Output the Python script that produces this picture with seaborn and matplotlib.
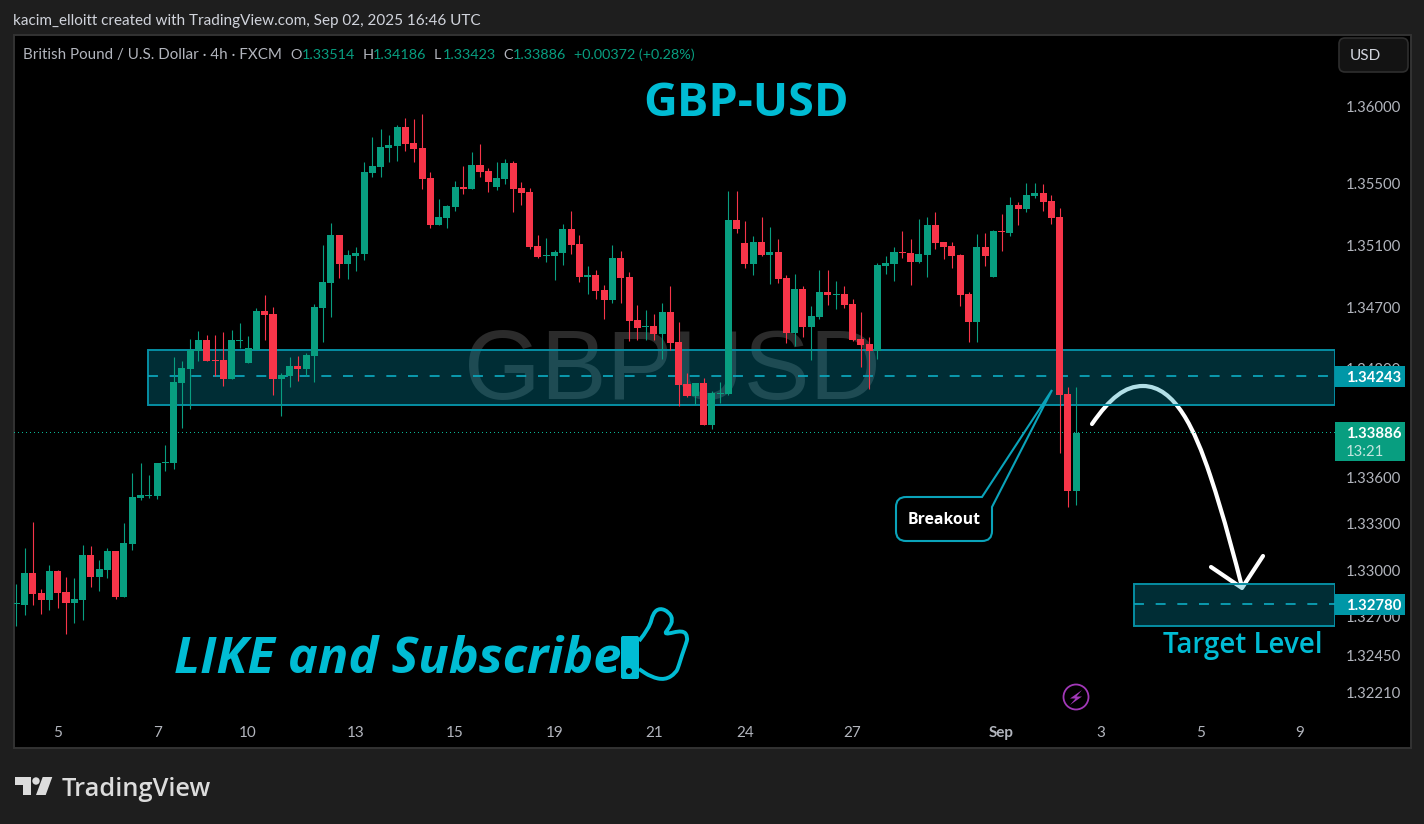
import matplotlib
matplotlib.use("Agg")
import matplotlib.pyplot as plt
import seaborn as sns
import numpy as np
import pandas as pd
from matplotlib.lines import Line2D
from matplotlib.patches import Circle, FancyBboxPatch, PathPatch, Polygon, Rectangle
from matplotlib.path import Path
from matplotlib.transforms import Affine2D

# 4h candles
opens = [1.32780, 1.32776, 1.32983, 1.32851, 1.32807, 1.32994, 1.32858, 1.32787, 1.32807, 1.33098,
         1.32956, 1.33000, 1.33123, 1.32827, 1.33170, 1.33465, 1.33481, 1.33479, 1.33695, 1.33693,
         1.34209, 1.34300, 1.34418, 1.34487, 1.34358, 1.34358, 1.34236, 1.34483, 1.34338, 1.34423,
         1.34674, 1.34656, 1.34236, 1.34253, 1.34320, 1.34300, 1.34385, 1.34694, 1.34857, 1.35166,
         1.34979, 1.35030, 1.35043, 1.35567, 1.35606, 1.35729, 1.35742, 1.35864, 1.35761, 1.35729,
         1.35535, 1.35231, 1.35276, 1.35347, 1.35476, 1.35464, 1.35619, 1.35580, 1.35476, 1.35528,
         1.35632, 1.35470, 1.35444, 1.35095, 1.35030, 1.35030, 1.35050, 1.35205, 1.35108, 1.34895,
         1.34908, 1.34811, 1.34746, 1.35018, 1.34895, 1.34617, 1.34571, 1.34578, 1.34526, 1.34668,
         1.34474, 1.34203, 1.34125, 1.34209, 1.33938, 1.34141, 1.34138, 1.35263, 1.35114, 1.34979,
         1.35121, 1.35037, 1.35056, 1.34888, 1.34533, 1.34817, 1.34571, 1.34636, 1.34798, 1.34780,
         1.34785, 1.34720, 1.34494, 1.34462, 1.34416, 1.34966, 1.34979, 1.35056, 1.35050, 1.34992,
         1.35037, 1.35231, 1.35121, 1.35095, 1.35037, 1.34785, 1.34604, 1.35089, 1.34895, 1.35192,
         1.35179, 1.35360, 1.35334, 1.35418, 1.35438, 1.35386, 1.35283, 1.34138, 1.33514]
highs = [1.32911, 1.33143, 1.33312, 1.32878, 1.33034, 1.33000, 1.32956, 1.32949, 1.33163, 1.33156,
         1.33065, 1.33143, 1.33123, 1.33305, 1.33628, 1.33693, 1.33615, 1.33693, 1.33808, 1.34378,
         1.34351, 1.34494, 1.34545, 1.34521, 1.34521, 1.34538, 1.34552, 1.34596, 1.34514, 1.34694,
         1.34779, 1.34701, 1.34274, 1.34378, 1.34385, 1.34403, 1.34721, 1.35102, 1.35244, 1.35166,
         1.35069, 1.35089, 1.35638, 1.35800, 1.35851, 1.35813, 1.35877, 1.35922, 1.35916, 1.35948,
         1.35573, 1.35399, 1.35360, 1.35515, 1.35612, 1.35703, 1.35754, 1.35599, 1.35638, 1.35657,
         1.35644, 1.35509, 1.35470, 1.35166, 1.35147, 1.35069, 1.35237, 1.35321, 1.35166, 1.34966,
         1.34940, 1.34843, 1.35102, 1.35063, 1.34927, 1.34714, 1.34681, 1.34655, 1.34727, 1.34836,
         1.34604, 1.34274, 1.34209, 1.34242, 1.34158, 1.34216, 1.35451, 1.35451, 1.35257, 1.35160,
         1.35283, 1.35218, 1.35140, 1.34908, 1.34914, 1.34836, 1.34707, 1.34940, 1.34940, 1.34869,
         1.34836, 1.34752, 1.34668, 1.34507, 1.34985, 1.35030, 1.35089, 1.35192, 1.35140, 1.35270,
         1.35283, 1.35315, 1.35121, 1.35121, 1.35043, 1.34798, 1.35173, 1.35179, 1.35198, 1.35302,
         1.35412, 1.35379, 1.35502, 1.35502, 1.35496, 1.35425, 1.35341, 1.34184, 1.34186]
lows = [1.32640, 1.32707, 1.32776, 1.32715, 1.32742, 1.32755, 1.32586, 1.32657, 1.32678, 1.32891,
        1.32865, 1.32949, 1.32813, 1.32827, 1.33129, 1.33454, 1.33465, 1.33459, 1.33641, 1.33655,
        1.33920, 1.34042, 1.34351, 1.34351, 1.34253, 1.34191, 1.34236, 1.34436, 1.34338, 1.34423,
        1.34487, 1.34131, 1.33995, 1.34185, 1.34222, 1.34253, 1.34216, 1.34474, 1.34636, 1.34888,
        1.34882, 1.34933, 1.35005, 1.35541, 1.35541, 1.35638, 1.35644, 1.35709, 1.35638, 1.35464,
        1.35211, 1.35231, 1.35211, 1.35321, 1.35431, 1.35464, 1.35541, 1.35444, 1.35457, 1.35496,
        1.35315, 1.35360, 1.35076, 1.35018, 1.34992, 1.34875, 1.34972, 1.35043, 1.34862, 1.34785,
        1.34752, 1.34623, 1.34727, 1.34727, 1.34481, 1.34487, 1.34487, 1.34487, 1.34365, 1.34423,
        1.34061, 1.34119, 1.34067, 1.33938, 1.33912, 1.34080, 1.34132, 1.35179, 1.34953, 1.34908,
        1.35030, 1.34849, 1.34856, 1.34468, 1.34449, 1.34507, 1.34358, 1.34623, 1.34714, 1.34688,
        1.34694, 1.34481, 1.34313, 1.34171, 1.34365, 1.34914, 1.34869, 1.35018, 1.34843, 1.34985,
        1.34895, 1.35076, 1.35011, 1.34953, 1.34707, 1.34474, 1.34474, 1.34966, 1.34895, 1.35063,
        1.35160, 1.35231, 1.35315, 1.35405, 1.35321, 1.35237, 1.33757, 1.33408, 1.33423]
closes = [1.32785, 1.32983, 1.32847, 1.32807, 1.32994, 1.32851, 1.32787, 1.32813, 1.33098, 1.32956,
          1.33007, 1.33123, 1.32827, 1.33176, 1.33472, 1.33486, 1.33486, 1.33693, 1.33699, 1.34216,
          1.34307, 1.34425, 1.34487, 1.34351, 1.34354, 1.34236, 1.34487, 1.34487, 1.34436, 1.34674,
          1.34650, 1.34236, 1.34260, 1.34320, 1.34300, 1.34392, 1.34701, 1.34863, 1.35166, 1.34979,
          1.35037, 1.35050, 1.35573, 1.35612, 1.35735, 1.35748, 1.35864, 1.35754, 1.35722, 1.35528,
          1.35231, 1.35283, 1.35354, 1.35476, 1.35464, 1.35619, 1.35573, 1.35509, 1.35535, 1.35632,
          1.35464, 1.35438, 1.35089, 1.35024, 1.35037, 1.35056, 1.35205, 1.35102, 1.34895, 1.34908,
          1.34804, 1.34746, 1.35018, 1.34888, 1.34610, 1.34565, 1.34578, 1.34526, 1.34668, 1.34468,
          1.34197, 1.34125, 1.34209, 1.33938, 1.34145, 1.34145, 1.35263, 1.35205, 1.34979, 1.35121,
          1.35037, 1.35056, 1.34882, 1.34533, 1.34817, 1.34571, 1.34643, 1.34798, 1.34778, 1.34785,
          1.34714, 1.34487, 1.34455, 1.34416, 1.34972, 1.34985, 1.35056, 1.35050, 1.34992, 1.35043,
          1.35231, 1.35114, 1.35089, 1.35030, 1.34778, 1.34604, 1.35089, 1.35030, 1.35192, 1.35186,
          1.35360, 1.35334, 1.35425, 1.35438, 1.35379, 1.35276, 1.34132, 1.33511, 1.33886]

price_ticks = [1.36000, 1.35500, 1.35100, 1.34700, 1.34300, 1.33600, 1.33300, 1.33000, 1.32700, 1.32450, 1.32210]
time_ticks = [5, 17, 28, 41, 53, 65, 77, 88, 101, 119, 131, 143, 155]
time_labels = ["5", "7", "10", "13", "15", "19", "21", "24", "27", "Sep", "3", "5", "9"]

resistance_zone = (1.34067, 1.34423)
resistance_line = 1.34255
target_zone = (1.32639, 1.32910)
target_line = 1.32780
close_line = 1.33893

resistance_label = "1.34243"
close_label = "1.33886"
target_label = "1.32780"

UP = "#089e80"
DOWN = "#f73549"
CYAN = "#00bcd4"
ZONE = "#0097b2"
EDGE = "#068ea3"
GREY = "#b2b5bd"

sns.set_style("dark")
plt.rcParams["font.family"] = ["Lato", "DejaVu Sans"]
plt.rcParams["axes.grid"] = False

fig = plt.figure(figsize=(14.24, 8.24), dpi=100, facecolor="#1e1e1e")
# screenshot pixels, origin top left, for everything that is not on the price scale
px = Affine2D().scale(1, -1).translate(0, 824)

fig.add_artist(Rectangle((14, 35), 1397, 713, transform=px, facecolor="black",
                         edgecolor="#333333", linewidth=1.4, zorder=-1))

ax = fig.add_axes([14 / 1424, 108 / 824, 1321 / 1424, 680 / 824])
ax.set_facecolor("none")
for s in ax.spines.values():
    s.set_visible(False)

candles = pd.DataFrame({"bar": np.arange(len(opens)), "open": opens, "high": highs,
                        "low": lows, "close": closes})
candles["base"] = candles[["open", "close"]].min(axis=1)
candles["body"] = (candles["close"] - candles["open"]).abs().clip(lower=0.00007)
rising = candles["close"] >= candles["open"]

# wicks, then bodies on top
ax.vlines(candles["bar"], candles["low"], candles["high"], colors=[UP if r else DOWN for r in rising],
          linewidth=0.8, zorder=3)
for part, colour in [(candles[rising], UP), (candles[~rising], DOWN)]:
    sns.barplot(data=part, x="bar", y="body", bottom=part["base"].values, native_scale=True, orient="x",
                width=0.85, color=colour, saturation=1, linewidth=0, errorbar=None, ax=ax, zorder=4)

ax.set_xlim(-0.278, 159.26)
ax.set_ylim(1.32057, 1.364525)
ax.set_xlabel("")
ax.set_ylabel("")
ax.yaxis.tick_right()
ax.set_yticks(price_ticks, [f"{p:.5f}" for p in price_ticks])
ax.set_xticks(time_ticks, time_labels)
ax.tick_params(axis="y", length=0, pad=8, labelsize=10.7, labelcolor=GREY)
ax.tick_params(axis="x", length=0, pad=7.5, labelsize=11, labelcolor=GREY)
ax.get_xticklabels()[time_labels.index("Sep")].set_fontweight("bold")

# symbol watermark sits under the zones
ax.text(672, 374, "GBPUSD", transform=px, ha="center", va="center", color="#2b2b2b", fontsize=71,
        family="Liberation Sans", zorder=0.5)

# projected path, also under the zone fill
arrow = Path([(1092, 424), (1110, 398), (1125, 386), (1143, 386),
              (1175, 386), (1195, 430), (1210, 475),
              (1225, 520), (1235, 560), (1242, 587)],
             [Path.MOVETO] + [Path.CURVE4] * 9)
ax.add_patch(PathPatch(arrow, transform=px, facecolor="none", edgecolor="white", linewidth=3,
                       capstyle="round", clip_on=False, zorder=1))
ax.add_line(Line2D([1211, 1242, 1263], [567, 588, 556], transform=px, color="white", linewidth=3,
                   solid_capstyle="round", solid_joinstyle="round", clip_on=False, zorder=1))

# zones drawn from the price scale, x from the bar index
zone_x = (15.9, 159.2)
target_x = (135.0, 159.2)
for (lo, hi), (x0, x1), level in [(resistance_zone, zone_x, resistance_line), (target_zone, target_x, target_line)]:
    ax.add_patch(Rectangle((x0, lo), x1 - x0, hi - lo, facecolor=ZONE, alpha=0.3, linewidth=0, zorder=2))
    ax.add_patch(Rectangle((x0, lo), x1 - x0, hi - lo, facecolor="none", edgecolor=EDGE, linewidth=1.4, zorder=2.1))
    ax.plot([x0, x1], [level, level], color="#0ca3b8", linewidth=1.3, linestyle=(0, (5.5, 6.5)), zorder=2.2)

ax.axhline(close_line, color="#0bb594", linewidth=0.72, linestyle=(0, (1, 3)), antialiased=False, zorder=1.5)

# price labels
for y0, h, colour in [(366, 21, "#0097a7"), (422, 39, UP), (594, 21, "#0097a7")]:
    ax.add_patch(Rectangle((1335, y0), 70, h, transform=px, facecolor=colour, linewidth=0,
                           clip_on=False, zorder=6))
for y, s in [(377.5, resistance_label), (434, close_label), (605.5, target_label)]:
    ax.text(1346, y, s, transform=px, va="center", color="white", fontsize=10.7, fontweight="bold", zorder=7)
ax.text(1346, 452, "13:21", transform=px, va="center", color="#c4e6df", fontsize=10.7, zorder=7)

# titles and notes
ax.text(746, 104, "GBP-USD", transform=px, ha="center", va="center", color=CYAN, fontsize=33.7,
        fontweight="bold", family="Open Sans", zorder=7)
ax.text(174, 673, "LIKE and Subscribe", transform=px, ha="left", va="baseline", color=CYAN, fontsize=36.4,
        fontstyle="italic", fontweight="bold", family="Open Sans", zorder=7)
ax.text(1243, 645, "Target Level", transform=px, ha="center", va="center", color=CYAN, fontsize=20,
        fontweight=600, family="Open Sans", zorder=7)

# thumbs up, smoothed through the midpoints of the outline
thumb = [(639, 641), (649.5, 628), (653, 613), (660, 608), (669, 612), (673, 620), (669, 628), (663.5, 635),
         (683, 630), (688, 637), (685.6, 645), (682, 655), (679, 665), (676, 673), (665, 680), (651, 677), (639, 669)]
verts = [thumb[0]]
codes = [Path.MOVETO]
for a, b in zip(thumb[1:-1], thumb[2:]):
    verts += [a, ((a[0] + b[0]) / 2, (a[1] + b[1]) / 2)]
    codes += [Path.CURVE3, Path.CURVE3]
verts.append(thumb[-1])
codes.append(Path.LINETO)
ax.add_patch(PathPatch(Path(verts, codes), transform=px, facecolor="none", edgecolor=CYAN, linewidth=2.8,
                       joinstyle="round", clip_on=False, zorder=7))
ax.add_patch(FancyBboxPatch((621, 636), 18, 43, boxstyle="round,pad=0,rounding_size=2", transform=px,
                            facecolor=CYAN, linewidth=0, clip_on=False, zorder=7))
ax.add_patch(Circle((629, 671), 3, transform=px, facecolor="black", linewidth=0, clip_on=False, zorder=8))

# breakout callout
callout = Path([(906, 497), (982, 497), (1052, 390), (992, 507), (992, 531), (992, 541), (982, 541),
                (906, 541), (896, 541), (896, 531), (896, 507), (896, 497), (906, 497)],
               [Path.MOVETO, Path.LINETO, Path.LINETO, Path.LINETO, Path.LINETO, Path.CURVE3, Path.CURVE3,
                Path.LINETO, Path.CURVE3, Path.CURVE3, Path.LINETO, Path.CURVE3, Path.CURVE3])
ax.add_patch(PathPatch(callout, transform=px, facecolor="black", edgecolor="#0aa3ba", linewidth=1.5,
                       clip_on=False, zorder=5))
ax.text(944, 520, "Breakout", transform=px, ha="center", va="center", color="white", fontsize=11.3,
        fontweight="bold", family="Open Sans", zorder=7)

# lightning marker on the time scale
ax.add_patch(Circle((1076, 697), 12.5, transform=px, facecolor="none", edgecolor="#a238b8", linewidth=1.3,
                    clip_on=False, zorder=7))
ax.add_patch(Polygon([(1082, 690), (1070, 698.5), (1075.5, 698.5), (1070, 705), (1082, 696.5), (1076.5, 696.5)],
                     transform=px, facecolor="#a238b8", linewidth=0, clip_on=False, zorder=7))

# currency button
ax.add_patch(FancyBboxPatch((1339, 38), 69, 34, boxstyle="round,pad=0,rounding_size=6", transform=px,
                            facecolor="#131313", edgecolor="#2e2e2e", linewidth=1.2, clip_on=False, zorder=7))
ax.text(1350, 56, "USD", transform=px, va="center", color="#d1d4dc", fontsize=11, zorder=8)

# header lines
ax.text(13, 21.5, "kacim_elloitt created with TradingView.com, Sep 02, 2025 16:46 UTC", transform=px, va="center",
        color="#d1d4dc", fontsize=10.95, zorder=8)
ax.text(23, 55, "British Pound / U.S. Dollar \u00b7 4h \u00b7 FXCM", transform=px, va="center", color=GREY,
        fontsize=10.9, zorder=8)
ohlc_text = [(290.5, "O", GREY), (301.5, "1.33514", UP), (362.5, "H", GREY), (373, "1.34186", UP), (434, "L", GREY),
             (443, "1.33423", UP), (503, "C", GREY), (513, "1.33886", UP), (574, "+0.00372 (+0.28%)", UP)]
for x, s, colour in ohlc_text:
    ax.text(x, 55, s, transform=px, va="center", color=colour, fontsize=10.4, zorder=8)

# logo in the footer
logo = "#dcdcdc"
ax.add_patch(Polygon([(15, 777), (31, 777), (31, 795), (23.3, 795), (23.3, 785), (15, 785)], transform=px,
                     facecolor=logo, linewidth=0, clip_on=False))
ax.add_patch(Circle((36, 781), 3.7, transform=px, facecolor=logo, linewidth=0, clip_on=False))
ax.add_patch(Polygon([(42.7, 777), (52.3, 777), (45.7, 795), (36, 795)], transform=px,
                     facecolor=logo, linewidth=0, clip_on=False))
ax.text(62, 789, "TradingView", transform=px, va="center", color=logo, fontsize=18.3, fontweight=600,
        family="Open Sans")

fig.savefig("out.png", dpi=100, facecolor=fig.get_facecolor())
